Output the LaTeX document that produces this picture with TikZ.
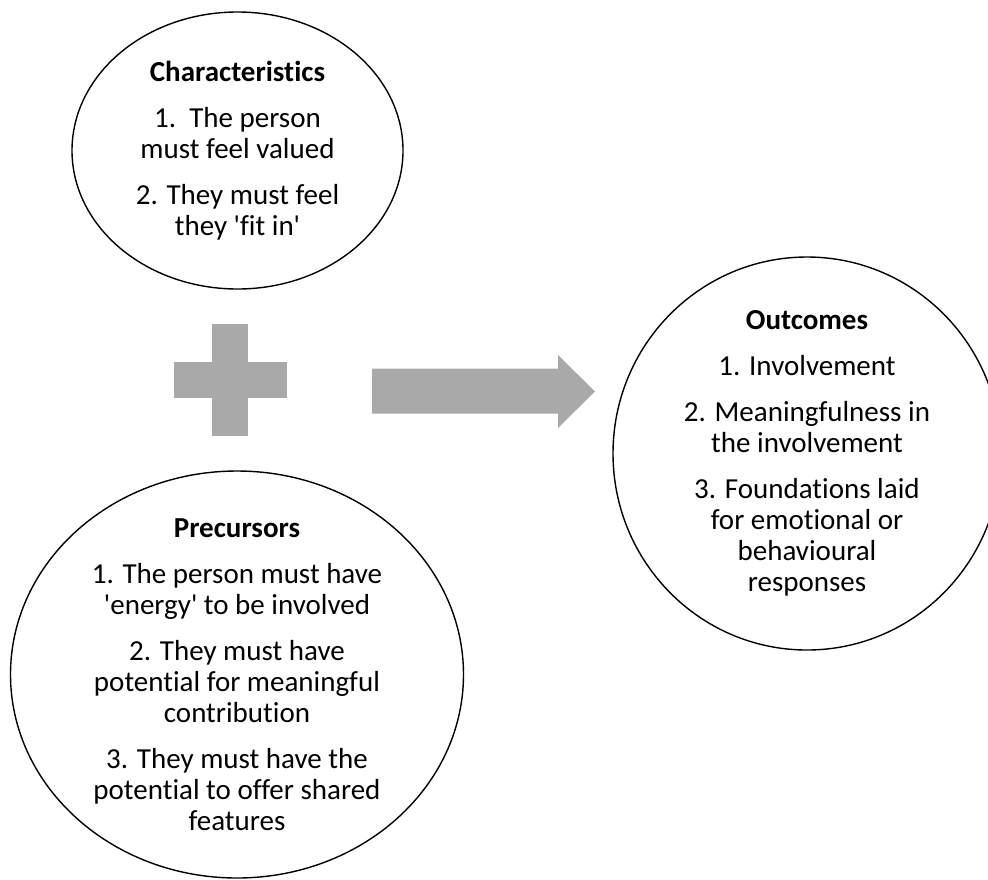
\documentclass[tikz,border=0pt]{standalone}
\usepackage{fontspec}
\setmainfont{Carlito}[Ligatures=NoCommon]
\usetikzlibrary{shapes.geometric}
\definecolor{blockgray}{RGB}{169,169,169}
\newcommand{\sq}{\textquotesingle}
\begin{document}
\begin{tikzpicture}[x=1pt, y=-1pt,
        bubble/.style={draw, ellipse, line width=1.4pt},
        bubbletext/.style={align=center, inner sep=0pt, font=\fontsize{29}{31}\selectfont}]
            \useasboundingbox (0,0) rectangle (988,879);

            \node[bubble, minimum width=331pt, minimum height=277pt] (char) at (237.5, 150.5) {};
            \node[bubble, minimum width=453pt, minimum height=407pt] (prec) at (237, 674.5) {};
            \node[bubble, minimum width=388pt, minimum height=393pt] (outc) at (807, 453.5) {};

            \node[bubbletext] (charText) at (char.center) {\textbf{Characteristics}\\[15pt] 1.~\ The person\\ must feel valued\\[15pt] 2. They must feel\\ they \sq fit in\sq};
            \node[bubbletext] (precText) at (prec.center) {\textbf{Precursors}\\[15pt] 1. The person must have\\ \sq energy\sq{} to be involved\\[15pt] 2. They must have\\ potential for meaningful\\ contribution\\[15pt] 3. They must have the\\ potential to offer shared\\ features};
            \node[bubbletext] (outcText) at (outc.center) {\textbf{Outcomes}\\[15pt] 1. Involvement\\[15pt] 2. Meaningfulness in\\ the involvement\\[15pt] 3. Foundations laid\\ for emotional or\\ behavioural\\ responses};

            \fill[blockgray] (212,324) rectangle (248,436);
            \fill[blockgray] (174,362) rectangle (287,398);
            \fill[blockgray] (372,368.5) -- (558,368.5) -- (558,355) -- (595,391.5) -- (558,428) -- (558,413.5) -- (372,413.5) -- cycle;
        \end{tikzpicture}
\end{document}
